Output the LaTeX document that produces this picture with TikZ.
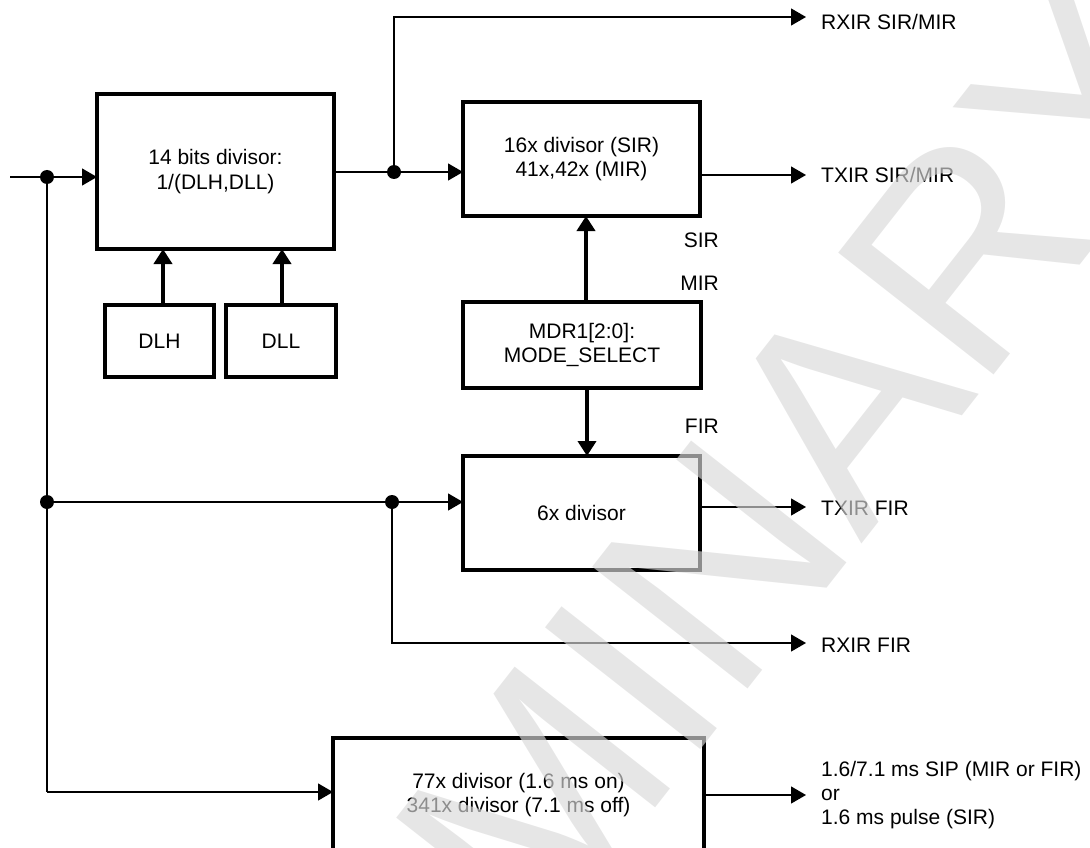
\documentclass[tikz,border=0pt]{standalone}
\usepackage{fontspec}
\setmainfont{Liberation Sans}
\newfontfamily\wmfont{Liberation Sans}
\usetikzlibrary{arrows.meta}
\begin{document}
\begin{tikzpicture}[x=1pt,y=-1pt,
  box/.style={draw, line width=4pt, inner sep=0pt, outer sep=0pt, align=center,
              font=\fontsize{21}{24.5}\selectfont},
  wire/.style={line width=1.3pt, draw=black},
  arr/.style={wire, -{Triangle[length=15pt,width=17pt]}},
  fatarr/.style={line width=4pt, draw=black, -{Triangle[length=15pt,width=18pt]}},
  dot/.style={circle, fill=black, inner sep=0pt, minimum size=14pt},
  lbl/.style={inner sep=0pt, font=\fontsize{21}{24}\selectfont},
  outlbl/.style={lbl, anchor=west, align=left}]
\useasboundingbox (0,0) rectangle (1090,848);
\clip (0,0) rectangle (1090,848);

% boxes
\node[box, minimum width=237pt, minimum height=155pt] (b1) at (215.5,171.5) {14 bits divisor:\\1/(DLH,DLL)};
\node[box, minimum width=109pt, minimum height=72pt] (dlh) at (159.5,341) {DLH};
\node[box, minimum width=110pt, minimum height=72pt] (dll) at (281,341) {DLL};
\node[box, minimum width=237pt, minimum height=114pt] (b2) at (581.5,159) {16x divisor (SIR)\\41x,42x (MIR)};
\node[box, minimum width=238pt, minimum height=86pt] (mdr) at (582,345) {MDR1[2:0]:\\MODE\_SELECT};
\node[box, minimum width=237pt, minimum height=114pt] (b3) at (581.5,513) {6x divisor};
\node[box, minimum width=371pt, minimum height=114pt] (b4) at (518.5,795) {77x divisor (1.6 ms on)\\341x divisor (7.1 ms off)};

% input and left bus
\coordinate (in) at (10,177);
\node[dot] (d1) at (47,177) {};
\node[dot] (d2) at (47,502) {};
\coordinate (bl) at (47,792);
\draw[wire] (in) -- (d1.center);
\draw[arr] (d1.center) -- (d1.center -| b1.west);
\draw[wire] (d1.center) -- (bl);
\draw[arr] (bl) -- (bl -| b4.west);

% 6x divisor input and RXIR FIR
\node[dot] (d3) at (392,502) {};
\draw[wire] (d2.center) -- (d3.center);
\draw[arr] (d3.center) -- (d3.center -| b3.west);
\coordinate (rfc) at (392,643);
\coordinate (rfo) at (806,643);
\draw[arr] (d3.center) -- (rfc) -- (rfo);
\node[outlbl] (trf) at (821,645) {RXIR FIR};

% 14 bits divisor output
\node[dot] (d4) at (394,172) {};
\draw[wire] (d4.center -| b1.east) -- (d4.center);
\draw[arr] (d4.center) -- (d4.center -| b2.west);
\coordinate (upc) at (394,17);
\coordinate (rso) at (806,17);
\draw[arr] (d4.center) -- (upc) -- (rso);
\node[outlbl] (trs) at (821,22) {RXIR SIR/MIR};

% outputs
\coordinate (tso) at (806,175);
\draw[arr] (tso -| b2.east) -- (tso);
\node[outlbl] (tts) at (821,175) {TXIR SIR/MIR};
\coordinate (tfo) at (806,507);
\draw[arr] (tfo -| b3.east) -- (tfo);
\node[outlbl] (ttf) at (821,508) {TXIR FIR};
\coordinate (po) at (806,795);
\draw[arr] (po -| b4.east) -- (po);
\node[outlbl, font=\fontsize{21}{24}\selectfont] (tpo) at (821,795) {1.6/7.1 ms SIP (MIR or FIR)\\or\\1.6 ms pulse (SIR)};

% thick control arrows
\draw[fatarr] ([xshift=3.5pt]dlh.north) -- ([xshift=3.5pt]dlh.north |- b1.south);
\draw[fatarr] ([xshift=1pt]dll.north) -- ([xshift=1pt]dll.north |- b1.south);
\draw[fatarr] ([xshift=4pt]mdr.north) -- ([xshift=4pt]mdr.north |- b2.south);
\draw[fatarr] ([xshift=5pt]mdr.south) -- ([xshift=5pt]mdr.south |- b3.north);

% mode labels
\node[lbl, anchor=east] (lsir) at (719,240) {SIR};
\node[lbl, anchor=east] (lmir) at (719,283) {MIR};
\node[lbl, anchor=east] (lfir) at (719,426) {FIR};

% watermark
\node[font=\wmfont\fontsize{287}{287}\selectfont, text=black!15, opacity=0.65,
      anchor=base west, rotate=51.9, inner sep=0pt, outer sep=0pt] (wm) at (25.5,1611) {PRELIMINARY};
\end{tikzpicture}
\end{document}
